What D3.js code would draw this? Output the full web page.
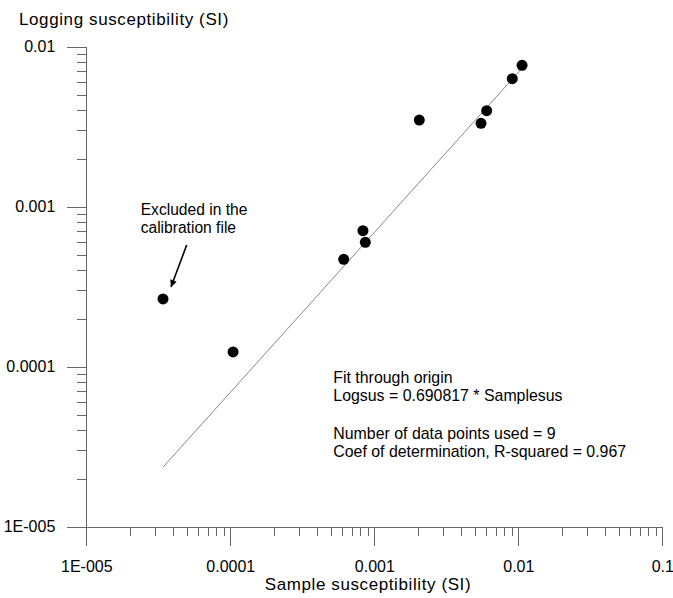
<!DOCTYPE html>
<html>
<head>
<meta charset="utf-8">
<script src="https://cdn.jsdelivr.net/npm/d3@7/dist/d3.min.js"></script>
<style>
  body { margin: 0; background: #fff; }
  svg { display: block; }
  text { font-family: "Liberation Sans", Arial, sans-serif; fill: #000; }
</style>
</head>
<body>
<script>
// ---- data ----
const sampleSus = [3.41e-5, 1.045e-4, 6.13e-4, 8.34e-4, 8.66e-4, 2.054e-3, 5.51e-3, 6.03e-3, 9.08e-3, 1.062e-2];
const loggingSus = [2.65e-4, 1.236e-4, 4.69e-4, 7.08e-4, 5.99e-4, 3.48e-3, 3.32e-3, 3.98e-3, 6.31e-3, 7.65e-3];
const fitSlope = 0.690817;
const xTickValues = [1e-5, 1e-4, 1e-3, 1e-2, 1e-1];
const xTickLabels = ["1E-005", "0.0001", "0.001", "0.01", "0.1"];
const yTickValues = [1e-5, 1e-4, 1e-3, 1e-2];
const yTickLabels = ["1E-005", "0.0001", "0.001", "0.01"];
const fitLines = [
  "Fit through origin",
  "Logsus = 0.690817 * Samplesus",
  "",
  "Number of data points used = 9",
  "Coef of determination, R-squared = 0.967"
];
const annotationLines = ["Excluded in the", "calibration file"];
const xTitle = "Sample susceptibility (SI)";
const yTitle = "Logging susceptibility (SI)";

// ---- layout ----
const W = 673, H = 598;
const svg = d3.select("body").append("svg").attr("width", W).attr("height", H);

const x = d3.scaleLog().domain([1e-5, 1e-1]).range([86.3, 662.3]);
const y = d3.scaleLog().domain([1e-5, 1e-2]).range([526.7, 46.7]);

function minorTicks(lo, hi) {
  const out = [];
  for (let e = lo; e < hi; e++) for (let m = 2; m <= 9; m++) out.push(m * Math.pow(10, e));
  return out;
}
const axisColor = "#666";
const FONT = '"Liberation Sans", Arial, sans-serif';

// x axis
const gx = svg.append("g").attr("transform", `translate(0,${y(1e-5)})`);
gx.call(d3.axisBottom(x).tickValues(minorTicks(-5, -1)).tickSize(9).tickSizeOuter(0).tickFormat(""));
gx.append("g").call(d3.axisBottom(x).tickValues(xTickValues).tickSize(19).tickSizeOuter(0).tickPadding(15)
  .tickFormat((d, i) => xTickLabels[i]));
gx.selectAll("path,line").attr("stroke", axisColor).attr("shape-rendering", "crispEdges");
gx.selectAll("text").style("font-size", "16px").style("font-family", FONT).attr("fill", "#000");

// y axis
const gy = svg.append("g").attr("transform", `translate(${x(1e-5)},0)`);
gy.call(d3.axisLeft(y).tickValues(minorTicks(-5, -2)).tickSize(9).tickSizeOuter(0).tickFormat(""));
gy.append("g").call(d3.axisLeft(y).tickValues(yTickValues).tickSize(19).tickSizeOuter(0).tickPadding(12)
  .tickFormat((d, i) => yTickLabels[i]));
gy.selectAll("path,line").attr("stroke", axisColor).attr("shape-rendering", "crispEdges");
gy.selectAll("text").style("font-size", "16px").style("font-family", FONT).attr("fill", "#000");

// titles
svg.append("text").attr("x", 19).attr("y", 25).style("font-size", "17px").style("letter-spacing", "0.6px").text(yTitle);
svg.append("text").attr("x", 368).attr("y", 590).attr("text-anchor", "middle")
  .style("font-size", "17px").style("letter-spacing", "0.6px").text(xTitle);

// fit line through origin
const fitX = d3.extent(sampleSus);
svg.append("line")
  .attr("x1", x(fitX[0])).attr("y1", y(fitX[0] * fitSlope))
  .attr("x2", x(fitX[1])).attr("y2", y(fitX[1] * fitSlope))
  .attr("stroke", "#888").attr("stroke-width", 1);

// points
svg.append("g").selectAll("circle").data(sampleSus).join("circle")
  .attr("cx", d => x(d)).attr("cy", (d, i) => y(loggingSus[i]))
  .attr("r", 5.5).attr("fill", "#000");

// annotation
svg.append("text").attr("x", 140.7).attr("y", 215).style("font-size", "15.6px")
  .selectAll("tspan").data(annotationLines).join("tspan")
  .attr("x", 140.7).attr("dy", (d, i) => i ? 18 : 0).text(d => d);

svg.append("defs").append("marker").attr("id", "ah")
  .attr("viewBox", "0 0 10 10").attr("refX", 10).attr("refY", 5)
  .attr("markerWidth", 10).attr("markerHeight", 7).attr("markerUnits", "userSpaceOnUse")
  .attr("orient", "auto")
  .append("path").attr("d", "M0,0 L10,5 L0,10 Z").attr("fill", "#000");
svg.append("line").attr("x1", 186.7).attr("y1", 245).attr("x2", 171).attr("y2", 287)
  .attr("stroke", "#000").attr("stroke-width", 1.6).attr("marker-end", "url(#ah)");

// fit text block
const fitY = [383, 401, 420, 439, 457];
svg.append("g").selectAll("text").data(fitLines).join("text")
  .attr("x", 333.3).attr("y", (d, i) => fitY[i]).style("font-size", "15.9px").text(d => d);
</script>
</body>
</html>
